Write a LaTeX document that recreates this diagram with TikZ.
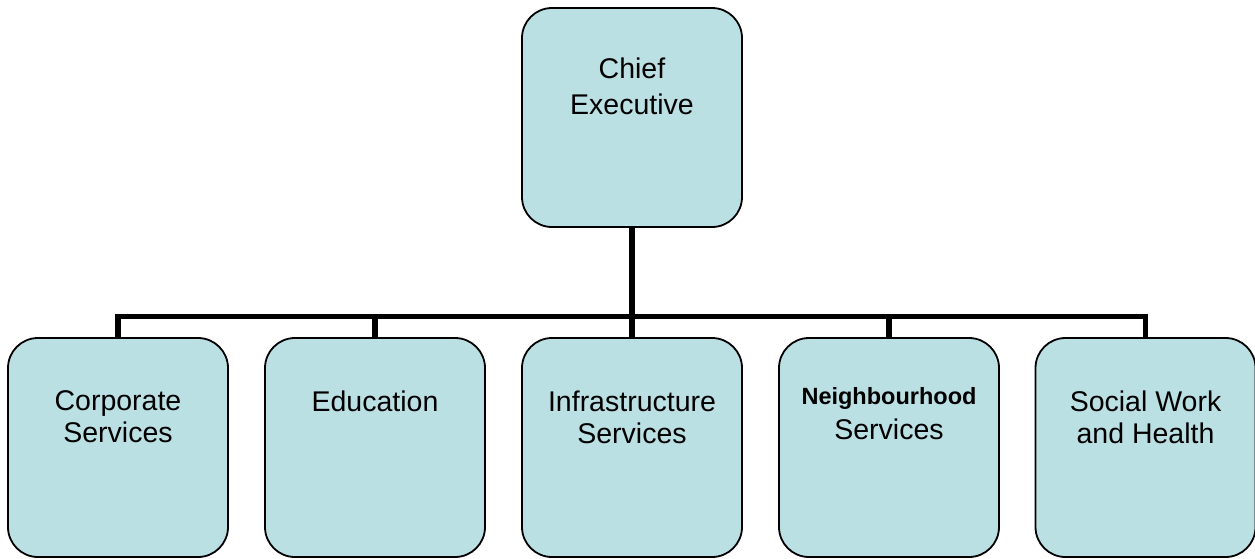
\documentclass[tikz,border=0pt]{standalone}
\usepackage{fontspec}
\setmainfont{Liberation Sans}
\definecolor{boxfill}{HTML}{BBE0E3}
\pgfdeclarelayer{bg}
\pgfsetlayers{bg,main}
\begin{document}
\begin{tikzpicture}[x=1pt,y=-1pt,
  orgbox/.style={draw=black, line width=1.8pt, fill=boxfill, rounded corners=30pt,
    minimum width=220pt, minimum height=219pt, inner sep=0pt},
  boxtext/.style={anchor=north, align=center, inner sep=0pt, font=\fontsize{28.5}{31.6}\selectfont},
  conn/.style={draw=black, line width=5.5pt, line join=miter}]
\useasboundingbox (0,0) rectangle (1255,558);
\coordinate (bus) at (632,316.5);
\node[orgbox] (ce) at (632,117.5) {};
\node[orgbox] (c1) at (118,447.5) {};
\node[orgbox] (c2) at (375,447.5) {};
\node[orgbox] (c3) at (632,447.5) {};
\node[orgbox] (c4) at (889,447.5) {};
\node[orgbox] (c5) at (1145.5,447.5) {};
\begin{pgfonlayer}{bg}
\fill[white] (0,0) rectangle (1255,558);
\draw[conn] (ce.south) -- (bus);
\draw[conn] (c1.north) -- (c1.north |- bus) -- (c5.north |- bus) -- (c5.north);
\draw[conn] (c2.north) -- (c2.north |- bus);
\draw[conn] (c3.north) -- (c3.north |- bus);
\draw[conn] (c4.north) -- (c4.north |- bus);
\end{pgfonlayer}
\node[boxtext, font=\fontsize{28.5}{35.6}\selectfont] (t0) at ([yshift=-50.5pt]ce.north) {Chief\\Executive};
\node[boxtext] (t1) at ([yshift=-53.5pt]c1.north) {Corporate\\Services};
\node[boxtext] (t2) at ([yshift=-53.5pt]c2.north) {Education};
\node[boxtext] (t3) at ([yshift=-53.5pt]c3.north) {Infrastructure\\Services};
\node[boxtext, font=\fontsize{28.5}{34.3}\selectfont] (t4) at ([yshift=-50.5pt]c4.north) {{\fontsize{23.5}{28}\selectfont\bfseries Neighbourhood}\\Services};
\node[boxtext] (t5) at ([yshift=-53.5pt]c5.north) {Social Work\\and Health};
\end{tikzpicture}
\end{document}
